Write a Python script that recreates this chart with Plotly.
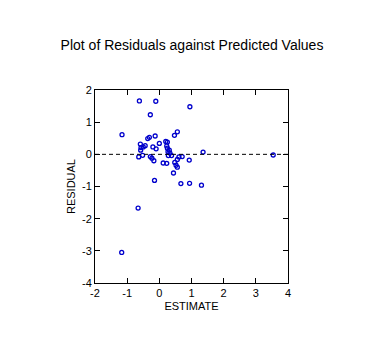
import plotly.graph_objects as go

estimate = [-0.62, -0.11, 0.95, -0.28, -1.16, 0.56, 0.47, -0.13, -0.31, -0.36,
            0.25, 0.00, -0.59, -0.44, -0.50, -0.57, -0.20, -0.10, 0.23, 0.25,
            0.31, 0.27, 0.33, -0.58, -0.64, -0.52, -0.28, -0.23, -0.17, 0.28,
            0.38, 0.61, 0.71, 0.56, 0.48, 0.12, 0.23, 0.52, 0.56, 0.93,
            0.44, -0.15, 0.67, 0.94, 1.36, 3.54, 1.31, -0.66, -1.17, 0.20]
residual = [1.66, 1.65, 1.48, 1.23, 0.61, 0.70, 0.59, 0.57, 0.53, 0.49,
            0.38, 0.34, 0.32, 0.27, 0.23, 0.21, 0.23, 0.17, 0.26, 0.19,
            0.13, 0.08, 0.04, 0.13, -0.08, -0.03, -0.07, -0.12, -0.20, -0.04,
            -0.04, -0.08, -0.07, -0.16, -0.25, -0.27, -0.28, -0.34, -0.40, -0.18,
            -0.58, -0.81, -0.91, -0.90, 0.07, -0.02, -0.96, -1.67, -3.05, 0.40]

xticks = [-2, -1, 0, 1, 2, 3, 4]
yticks = [-4, -3, -2, -1, 0, 1, 2]

fig = go.Figure()
fig.add_trace(go.Scatter(
    x=estimate, y=residual, mode="markers",
    marker=dict(symbol="circle-open", size=4, color="#0000CC", line=dict(width=1.3, color="#0000CC")),
    showlegend=False, hoverinfo="skip"))

fig.add_shape(type="line", xref="x", yref="y", x0=-2, x1=4, y0=0, y1=0,
              line=dict(color="black", width=1, dash="4px,3px"))

axis_common = dict(showgrid=False, zeroline=False, showline=True, linecolor="black",
                   linewidth=1, mirror="ticks", ticks="inside", ticklen=5,
                   tickcolor="black", tickfont=dict(size=11, color="black"))

fig.update_layout(
    width=384, height=348,
    margin=dict(l=95, r=96, t=90, b=65),
    paper_bgcolor="white", plot_bgcolor="white",
    font=dict(family="Liberation Sans, Arial, sans-serif", color="black"),
    title=dict(text="Plot of Residuals against Predicted Values", x=0.5, xanchor="center",
               y=1 - 45/348, yanchor="middle", font=dict(size=14)),
    xaxis=dict(range=[-2, 4], tickvals=xticks, ticktext=[str(v) for v in xticks],
               title=dict(text="ESTIMATE", font=dict(size=11), standoff=4), **axis_common),
    yaxis=dict(range=[-4, 2], tickvals=yticks, ticktext=[str(v) for v in yticks],
               title=dict(text="RESIDUAL", font=dict(size=11), standoff=4), **axis_common),
)

fig.write_html("out.html")
